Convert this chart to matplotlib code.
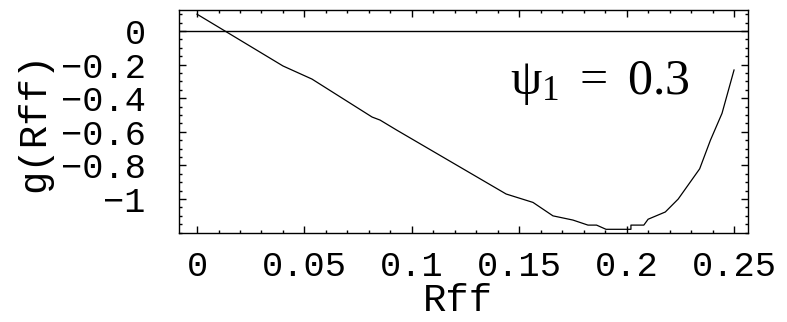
import numpy as np
import matplotlib
matplotlib.use('Agg')
import matplotlib.pyplot as plt
from matplotlib.ticker import MultipleLocator

# curve g(Rff), values
rff = [0.0, 0.013, 0.040, 0.0535, 0.0815, 0.0852, 0.093, 0.1439, 0.1564, 0.1657,
       0.175, 0.182, 0.186, 0.1904, 0.202, 0.202, 0.208, 0.210, 0.218, 0.224,
       0.234, 0.239, 0.2444, 0.25]
g = [0.10, 0.0, -0.208, -0.286, -0.512, -0.53, -0.59, -0.97, -1.02, -1.10,
     -1.125, -1.155, -1.155, -1.18, -1.18, -1.155, -1.155, -1.12, -1.077, -1.0,
     -0.82, -0.65, -0.49, -0.232]

xTicks = [0, 0.05, 0.1, 0.15, 0.2, 0.25]
xTickLabels = ['0', '0.05', '0.1', '0.15', '0.2', '0.25']
yTicks = [0, -0.2, -0.4, -0.6, -0.8, -1]
yTickLabels = ['0', '\u22120.2', '\u22120.4', '\u22120.6', '\u22120.8', '\u22121']

plt.rcParams['mathtext.fontset'] = 'custom'
plt.rcParams['mathtext.rm'] = 'Liberation Serif'
plt.rcParams['mathtext.it'] = 'Liberation Serif:italic'

fig = plt.figure(figsize=(7.87, 3.22), dpi=100)
ax = fig.add_axes([179 / 787, 1 - 233 / 322, (748 - 179) / 787, (233 - 10) / 322])

ax.plot(rff, g, color='black', lw=0.9)
ax.axhline(0, color='black', lw=1.0)

ax.set_xlim(-0.0084, 0.2565)
ax.set_ylim(-1.202, 0.125)

monoFont = 'Liberation Mono'
ax.set_xticks(xTicks)
ax.set_xticklabels(xTickLabels, family=monoFont, fontsize=25.5)
ax.set_yticks(yTicks)
ax.set_yticklabels(yTickLabels, family=monoFont, fontsize=25.5)
ax.xaxis.set_minor_locator(MultipleLocator(0.01))
ax.yaxis.set_minor_locator(MultipleLocator(0.05))
ax.tick_params(which='both', direction='in', top=True, right=True, width=1.0)
ax.tick_params(which='major', length=5, pad=12)
ax.tick_params(which='minor', length=2.5)
ax.tick_params(axis='y', which='major', pad=24)
for spine in ax.spines.values():
    spine.set_linewidth(1.0)

ax.set_xlabel('Rff', family=monoFont, fontsize=28, labelpad=0)
ax.xaxis.label.set_x(0.49)
ax.set_ylabel('g(Rff)', family=monoFont, fontsize=28, labelpad=6)

ax.text(0.1876, -0.31, r'$\mathrm{ψ}_1\ =\ 0.3$', fontsize=36, ha='center', va='center')

fig.savefig('out.png', dpi=100)
